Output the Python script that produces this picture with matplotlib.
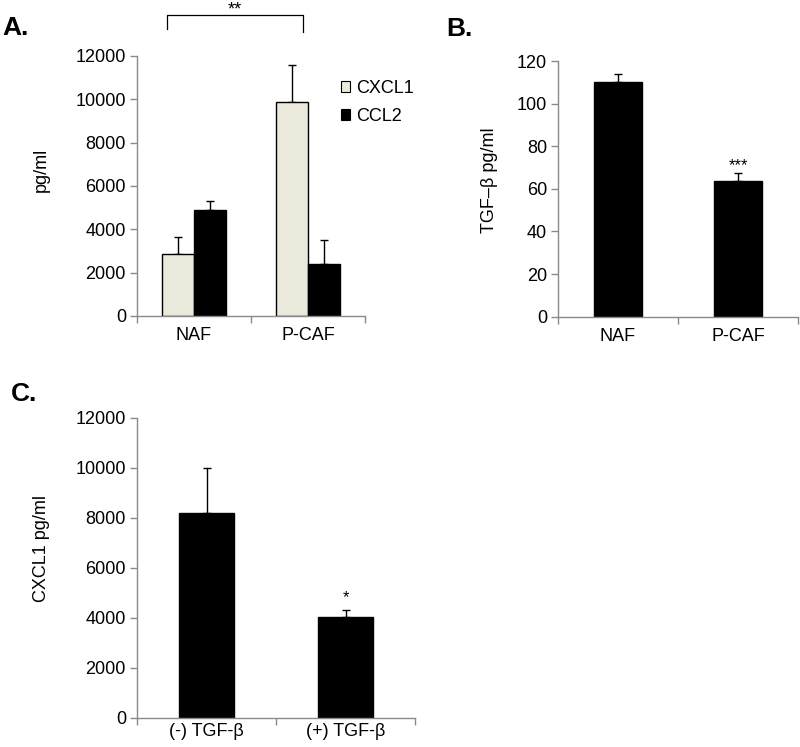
import matplotlib
matplotlib.use("Agg")
import matplotlib.pyplot as plt
import numpy as np
from matplotlib.patches import Patch

plt.rcParams['font.family'] = ['Liberation Sans', 'DejaVu Sans']
plt.rcParams['font.size'] = 13

# ---- data ----
a_categories = ["NAF", "P-CAF"]
a_series = ["CXCL1", "CCL2"]
a_cxcl1 = [2850, 9900]
a_cxcl1_err = [780, 1700]
a_ccl2 = [4900, 2380]
a_ccl2_err = [400, 1120]
a_yticks = [0, 2000, 4000, 6000, 8000, 10000, 12000]

b_categories = ["NAF", "P-CAF"]
b_values = [110, 63.5]
b_err = [3.7, 4.0]
b_yticks = [0, 20, 40, 60, 80, 100, 120]

c_categories = ["(-) TGF-β", "(+) TGF-β"]
c_values = [8200, 4030]
c_err = [1800, 280]
c_yticks = [0, 2000, 4000, 6000, 8000, 10000, 12000]

W, H = 800, 747
fig = plt.figure(figsize=(W / 100, H / 100), dpi=100)
fig.patch.set_facecolor("white")

AX_COLOR = "#8a8a8a"
LIGHT = "#ebe8dc"


def make_ax(left, right, bottom, top):
    return fig.add_axes([left / W, 1 - bottom / H, (right - left) / W, (bottom - top) / H])


def style(ax, ncat, yticks):
    for s in ["top", "right"]:
        ax.spines[s].set_visible(False)
    for s in ["left", "bottom"]:
        ax.spines[s].set_color(AX_COLOR)
        ax.spines[s].set_linewidth(1.0)
    ax.set_xlim(-0.5, ncat - 0.5)
    ax.set_ylim(yticks[0], yticks[-1])
    ax.set_yticks(yticks)
    ax.tick_params(axis="y", direction="out", length=5, color=AX_COLOR, width=1.0, pad=3, labelsize=13)
    ax.set_xticks(np.arange(ncat))
    ax.tick_params(axis="x", which="major", length=0, pad=8, labelsize=13)
    ax.set_xticks(np.arange(ncat + 1) - 0.5, minor=True)
    ax.tick_params(axis="x", which="minor", direction="out", length=5, color=AX_COLOR, width=1.0)


# ---- Panel A ----
axA = make_ax(137, 365, 316, 56)
x = np.arange(len(a_categories))
w = 0.285
axA.bar(x - w / 2, a_cxcl1, w, color=LIGHT, edgecolor="black", linewidth=1.0, zorder=2)
axA.bar(x + w / 2, a_ccl2, w, color="black", edgecolor="black", linewidth=1.0, zorder=2)
axA.errorbar(x - w / 2, a_cxcl1, yerr=[np.zeros(2), a_cxcl1_err], fmt="none", ecolor="black",
             elinewidth=1.0, capsize=3, capthick=1.0, zorder=1)
axA.errorbar(x + w / 2, a_ccl2, yerr=[np.zeros(2), a_ccl2_err], fmt="none", ecolor="black",
             elinewidth=1.0, capsize=3, capthick=1.0, zorder=1)
style(axA, 2, a_yticks)
axA.set_xticklabels(a_categories)
axA.set_ylabel("pg/ml", fontsize=13)
axA.yaxis.set_label_coords(-0.382, 0.5635)
handles = [Patch(facecolor=LIGHT, edgecolor="black", linewidth=0.8),
           Patch(facecolor="black", edgecolor="black", linewidth=0.8)]
axA.legend(handles, a_series, loc="upper left", bbox_to_anchor=(341 / W, 1 - 80 / H),
           bbox_transform=fig.transFigure, frameon=False, fontsize=13, handlelength=0.5,
           handleheight=0.5, handletextpad=0.33, labelspacing=0.6, borderpad=0, borderaxespad=0)
# significance bracket
bx0, bx1 = -0.24, 0.96
axA.plot([bx0, bx0, bx1, bx1], [13250, 13900, 13900, 13100], color="black", lw=0.9, clip_on=False)
fig.text(235 / W, 1 - 1 / H, "**", ha="center", va="top", fontsize=13)
fig.text(2 / W, 1 - 28 / H, "A.", fontsize=19, fontweight="bold", va="center", ha="left")

# ---- Panel B ----
axB = make_ax(558, 798, 316.7, 61)
xb = np.arange(len(b_categories))
axB.bar(xb, b_values, 0.4, color="black", edgecolor="black", zorder=2)
axB.errorbar(xb, b_values, yerr=[np.zeros(2), b_err], fmt="none", ecolor="black",
             elinewidth=1.0, capsize=3, capthick=1.0, zorder=1)
style(axB, 2, b_yticks)
axB.set_xticklabels(b_categories)
axB.set_ylabel("TGF–β pg/ml", fontsize=13)
axB.yaxis.set_label_coords(-0.249, 0.533)
axB.text(xb[1], b_values[1] + b_err[1], "***", ha="center", va="bottom", fontsize=12)
fig.text(446 / W, 1 - 29 / H, "B.", fontsize=19, fontweight="bold", va="center", ha="left")

# ---- Panel C ----
axC = make_ax(137, 415, 717.7, 417.7)
xc = np.arange(len(c_categories))
axC.bar(xc, c_values, 0.39, color="black", edgecolor="black", zorder=2)
axC.errorbar(xc, c_values, yerr=[np.zeros(2), c_err], fmt="none", ecolor="black",
             elinewidth=1.0, capsize=3, capthick=1.0, zorder=1)
style(axC, 2, c_yticks)
axC.set_xticklabels(c_categories)
axC.tick_params(axis="x", which="major", pad=4)
axC.set_ylabel("CXCL1 pg/ml", fontsize=13)
axC.yaxis.set_label_coords(-0.313, 0.565)
axC.text(xc[1], c_values[1] + c_err[1] + 200, "*", ha="center", va="bottom", fontsize=12)
fig.text(11 / W, 1 - 394 / H, "C.", fontsize=19, fontweight="bold", va="center", ha="left")

fig.savefig("out.png", dpi=100, facecolor="white")
